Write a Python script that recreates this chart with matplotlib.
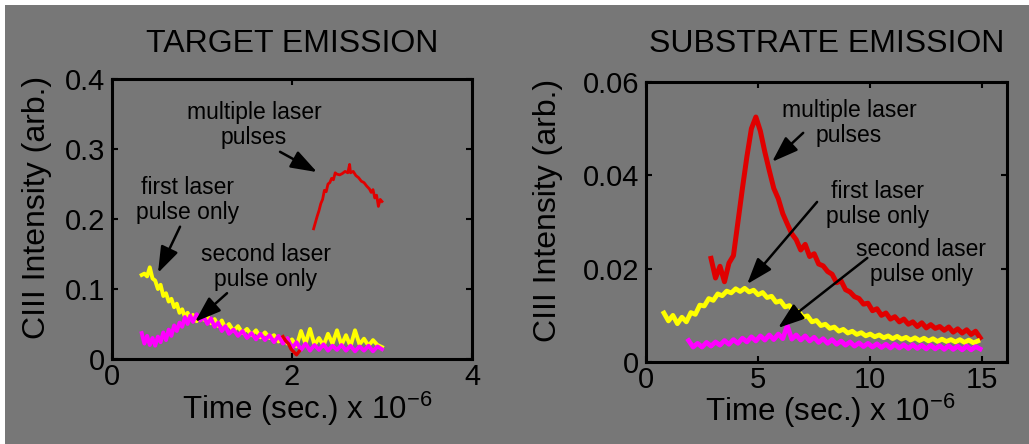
import matplotlib
matplotlib.use("Agg")
import matplotlib.pyplot as plt
from matplotlib.patches import Rectangle

plt.rcParams['font.family'] = ['Liberation Sans', 'DejaVu Sans']
plt.rcParams['mathtext.fontset'] = 'custom'
plt.rcParams['mathtext.rm'] = 'Liberation Sans'

GRAY = '#777777'
RED = '#e00000'
YELLOW = '#ffff00'
MAGENTA = '#ff00ff'

# ---- target emission (time in us) ----
t_first = [0.33, 0.36, 0.39, 0.42, 0.45, 0.48, 0.51, 0.54, 0.57, 0.60, 0.63, 0.66,
           0.69, 0.72, 0.75, 0.78, 0.81, 0.84, 0.87, 0.90, 0.94, 0.98, 1.02, 1.06,
           1.10, 1.14, 1.18, 1.22, 1.26, 1.30, 1.35, 1.40, 1.45, 1.50, 1.55, 1.60,
           1.65, 1.70, 1.75, 1.80, 1.85, 1.90, 1.95, 2.00, 2.05, 2.10, 2.15, 2.20,
           2.25, 2.30, 2.35, 2.40, 2.45, 2.50, 2.55, 2.60, 2.65, 2.70, 2.75, 2.80,
           2.85, 2.90, 2.95, 3.00]
first_target = [0.120, 0.122, 0.118, 0.131, 0.115, 0.112, 0.100, 0.106, 0.090, 0.094,
                0.082, 0.086, 0.074, 0.079, 0.066, 0.071, 0.060, 0.066, 0.057, 0.063,
                0.054, 0.061, 0.056, 0.062, 0.051, 0.057, 0.047, 0.055, 0.044, 0.050,
                0.040, 0.047, 0.037, 0.043, 0.034, 0.041, 0.031, 0.038, 0.030, 0.034,
                0.025, 0.031, 0.022, 0.028, 0.018, 0.040, 0.022, 0.043, 0.020, 0.030,
                0.019, 0.036, 0.022, 0.041, 0.020, 0.034, 0.018, 0.041, 0.021, 0.029,
                0.019, 0.027, 0.020, 0.017]
second_target = [0.037, 0.022, 0.033, 0.020, 0.030, 0.019, 0.032, 0.024, 0.038, 0.027,
                 0.042, 0.033, 0.048, 0.040, 0.052, 0.046, 0.060, 0.050, 0.062, 0.053,
                 0.064, 0.055, 0.060, 0.050, 0.058, 0.046, 0.052, 0.040, 0.047, 0.036,
                 0.042, 0.033, 0.040, 0.030, 0.037, 0.028, 0.036, 0.027, 0.034, 0.024,
                 0.033, 0.022, 0.030, 0.015, 0.024, 0.013, 0.022, 0.012, 0.020, 0.013,
                 0.021, 0.012, 0.019, 0.013, 0.020, 0.012, 0.019, 0.011, 0.018, 0.012,
                 0.019, 0.011, 0.018, 0.014]
t_multi_a = [1.90, 1.93, 1.96, 1.99, 2.02, 2.05, 2.08]
multi_target_a = [0.032, 0.026, 0.022, 0.014, 0.010, 0.006, 0.011]
t_multi_b = [2.24, 2.26, 2.28, 2.30, 2.32, 2.34, 2.36, 2.38, 2.40, 2.42, 2.44, 2.46,
             2.48, 2.50, 2.53, 2.56, 2.59, 2.62, 2.64, 2.65, 2.68, 2.71, 2.74, 2.77,
             2.80, 2.83, 2.86, 2.88, 2.90, 2.92, 2.94, 2.96, 2.98, 3.00]
multi_target_b = [0.186, 0.195, 0.204, 0.212, 0.222, 0.228, 0.241, 0.239, 0.250, 0.252,
                  0.258, 0.256, 0.266, 0.264, 0.263, 0.265, 0.268, 0.266, 0.278, 0.266,
                  0.268, 0.262, 0.259, 0.254, 0.252, 0.247, 0.243, 0.238, 0.242, 0.230,
                  0.234, 0.218, 0.228, 0.225]

# ---- substrate emission (time in us) ----
t_multi_s = [2.9, 3.1, 3.3, 3.5, 3.7, 3.9, 4.1, 4.3, 4.5, 4.7, 4.9, 5.1, 5.3, 5.5,
             5.7, 5.9, 6.1, 6.3, 6.5, 6.7, 6.9, 7.1, 7.3, 7.5, 7.7, 7.9, 8.1, 8.3,
             8.5, 8.7, 8.9, 9.1, 9.3, 9.5, 9.7, 9.9, 10.1, 10.3, 10.5, 10.7, 10.9,
             11.1, 11.3, 11.5, 11.7, 11.9, 12.1, 12.3, 12.5, 12.7, 12.9, 13.1, 13.3,
             13.5, 13.7, 13.9, 14.1, 14.3, 14.5, 14.7, 14.9]
multi_sub = [0.0222, 0.0180, 0.0205, 0.0172, 0.0212, 0.0228, 0.0300, 0.0372, 0.0440,
             0.0500, 0.0525, 0.0495, 0.0450, 0.0410, 0.0372, 0.0350, 0.0318, 0.0296,
             0.0275, 0.0262, 0.0240, 0.0252, 0.0226, 0.0232, 0.0210, 0.0206, 0.0194,
             0.0188, 0.0170, 0.0174, 0.0155, 0.0150, 0.0140, 0.0136, 0.0124, 0.0126,
             0.0110, 0.0114, 0.0100, 0.0105, 0.0092, 0.0097, 0.0086, 0.0092, 0.0081,
             0.0086, 0.0076, 0.0084, 0.0073, 0.0080, 0.0072, 0.0076, 0.0068, 0.0075,
             0.0064, 0.0071, 0.0062, 0.0069, 0.0059, 0.0066, 0.0052]
t_first_s = [0.8, 1.0, 1.2, 1.4, 1.6, 1.8, 2.0, 2.2, 2.4, 2.6, 2.8, 3.0, 3.2, 3.4,
             3.6, 3.8, 4.0, 4.2, 4.4, 4.6, 4.8, 5.0, 5.2, 5.4, 5.6, 5.8, 6.0, 6.2,
             6.4, 6.6, 6.8, 7.0, 7.2, 7.4, 7.6, 7.8, 8.0, 8.2, 8.4, 8.6, 8.8, 9.0,
             9.2, 9.4, 9.6, 9.8, 10.0, 10.2, 10.4, 10.6, 10.8, 11.0, 11.2, 11.4,
             11.6, 11.8, 12.0, 12.2, 12.4, 12.6, 12.8, 13.0, 13.2, 13.4, 13.6, 13.8,
             14.0, 14.2, 14.4, 14.6, 14.8]
first_sub = [0.0105, 0.0088, 0.0100, 0.0082, 0.0096, 0.0086, 0.0106, 0.0102, 0.0122,
             0.0120, 0.0136, 0.0132, 0.0146, 0.0142, 0.0152, 0.0148, 0.0157, 0.0151,
             0.0158, 0.0150, 0.0154, 0.0144, 0.0149, 0.0138, 0.0141, 0.0128, 0.0131,
             0.0118, 0.0121, 0.0106, 0.0109, 0.0096, 0.0099, 0.0086, 0.0089, 0.0078,
             0.0081, 0.0072, 0.0075, 0.0066, 0.0070, 0.0062, 0.0066, 0.0059, 0.0063,
             0.0056, 0.0060, 0.0054, 0.0058, 0.0052, 0.0056, 0.0050, 0.0055, 0.0049,
             0.0053, 0.0047, 0.0052, 0.0046, 0.0051, 0.0045, 0.0050, 0.0044, 0.0049,
             0.0044, 0.0048, 0.0043, 0.0048, 0.0042, 0.0047, 0.0041, 0.0045]
t_second_s = [1.9, 2.1, 2.3, 2.5, 2.7, 2.9, 3.1, 3.3, 3.5, 3.7, 3.9, 4.1, 4.3, 4.5,
              4.7, 4.9, 5.1, 5.3, 5.5, 5.7, 5.9, 6.1, 6.3, 6.5, 6.7, 6.9, 7.1, 7.3,
              7.5, 7.7, 7.9, 8.1, 8.3, 8.5, 8.7, 8.9, 9.1, 9.3, 9.5, 9.7, 9.9, 10.1,
              10.3, 10.5, 10.7, 10.9, 11.1, 11.3, 11.5, 11.7, 11.9, 12.1, 12.3, 12.5,
              12.7, 12.9, 13.1, 13.3, 13.5, 13.7, 13.9, 14.1, 14.3, 14.5, 14.7, 14.9]
second_sub = [0.0046, 0.0032, 0.0040, 0.0032, 0.0042, 0.0034, 0.0043, 0.0036, 0.0046,
              0.0038, 0.0048, 0.0040, 0.0051, 0.0043, 0.0054, 0.0045, 0.0056, 0.0047,
              0.0058, 0.0048, 0.0060, 0.0050, 0.0078, 0.0049, 0.0058, 0.0047, 0.0056,
              0.0045, 0.0053, 0.0042, 0.0050, 0.0040, 0.0048, 0.0038, 0.0045, 0.0036,
              0.0043, 0.0034, 0.0041, 0.0033, 0.0040, 0.0032, 0.0039, 0.0031, 0.0038,
              0.0030, 0.0038, 0.0030, 0.0037, 0.0029, 0.0037, 0.0029, 0.0036, 0.0028,
              0.0036, 0.0028, 0.0035, 0.0027, 0.0035, 0.0027, 0.0034, 0.0026, 0.0034,
              0.0026, 0.0033, 0.0028]

W, H = 1029, 444
fig = plt.figure(figsize=(W / 100, H / 100), dpi=100, facecolor='white')
# gray panel with a thin white margin on the top and left
fig.add_artist(Rectangle((5 / W, 0), 1, 1 - 5 / H, transform=fig.transFigure,
                         facecolor=GRAY, edgecolor='none', zorder=-10))

ax1 = fig.add_axes([112 / W, 85 / H, 360 / W, 280 / H])
ax2 = fig.add_axes([646 / W, 82 / H, 361 / W, 280 / H])

for ax in (ax1, ax2):
    ax.set_facecolor(GRAY)
    for s in ax.spines.values():
        s.set_linewidth(2.2)
    ax.tick_params(direction='in', length=4, width=1.5, top=True, right=True,
                   labelsize=21)
    ax.tick_params(axis='x', pad=3)
    ax.tick_params(axis='y', pad=5)

ax1.plot(t_first, first_target, color=YELLOW, lw=2.8)
ax1.plot(t_first, second_target, color=MAGENTA, lw=2.8)
ax1.plot(t_multi_a, multi_target_a, color=RED, lw=2.4)
ax1.plot(t_multi_b, multi_target_b, color=RED, lw=2.0)
ax1.set_xlim(0, 4)
ax1.set_ylim(0, 0.4)
ax1.set_xticks([0, 2, 4])
ax1.set_yticks([0, 0.1, 0.2, 0.3, 0.4])
ax1.set_yticklabels(['0', '0.1', '0.2', '0.3', '0.4'])

ax2.plot(t_multi_s, multi_sub, color=RED, lw=3.6)
ax2.plot(t_first_s, first_sub, color=YELLOW, lw=3.4)
ax2.plot(t_second_s, second_sub, color=MAGENTA, lw=3.4)
ax2.set_xlim(0, 16.1)
ax2.set_ylim(0, 0.06)
ax2.set_xticks([0, 5, 10, 15])
ax2.set_yticks([0, 0.02, 0.04, 0.06])
ax2.set_yticklabels(['0', '0.02', '0.04', '0.06'])

fig.text(292 / W, 1 - 52 / H, 'TARGET EMISSION', ha='center', va='baseline', fontsize=23)
fig.text(827 / W, 1 - 52 / H, 'SUBSTRATE EMISSION', ha='center', va='baseline', fontsize=23)

xlab = 'Time (sec.) x 10$^{\\mathregular{-6}}$'
fig.text(182 / W, 1 - 419 / H, xlab, ha='left', va='baseline', fontsize=22.5)
fig.text(705 / W, 1 - 421 / H, xlab, ha='left', va='baseline', fontsize=22.5)
fig.text(37 / W, 1 - 207 / H, 'CIII Intensity (arb.)', rotation=90,
         ha='center', va='center', fontsize=23)
fig.text(548 / W, 1 - 210 / H, 'CIII Intensity (arb.)', rotation=90,
         ha='center', va='center', fontsize=23)

arrow = dict(arrowstyle='-|>,head_length=0.8,head_width=0.28', color='black',
             lw=1.8, shrinkA=0, shrinkB=0, mutation_scale=20)
note = dict(ha='center', va='center', fontsize=16.5, linespacing=1.1)

ax1.text(1.578, 0.334, 'multiple laser\npulses', **note)
ax1.text(0.844, 0.227, 'first laser\npulse only', **note)
ax1.text(1.711, 0.131, 'second laser\npulse only', **note)
ax1.annotate('', xy=(2.278, 0.267), xytext=(1.867, 0.296), arrowprops=arrow)
ax1.annotate('', xy=(0.511, 0.123), xytext=(0.756, 0.189), arrowprops=arrow)
ax1.annotate('', xy=(0.922, 0.053), xytext=(1.278, 0.094), arrowprops=arrow)

ax2.text(9.06, 0.0512, 'multiple laser\npulses', **note)
ax2.text(10.31, 0.0339, 'first laser\npulse only', **note)
ax2.text(12.28, 0.0214, 'second laser\npulse only', **note)
ax2.annotate('', xy=(5.625, 0.0429), xytext=(7.01, 0.0491), arrowprops=arrow)
ax2.annotate('', xy=(4.51, 0.0167), xytext=(7.63, 0.0343), arrowprops=arrow)
ax2.annotate('', xy=(5.89, 0.0073), xytext=(9.87, 0.0223), arrowprops=arrow)

fig.savefig('out.png', dpi=100, facecolor=fig.get_facecolor())
